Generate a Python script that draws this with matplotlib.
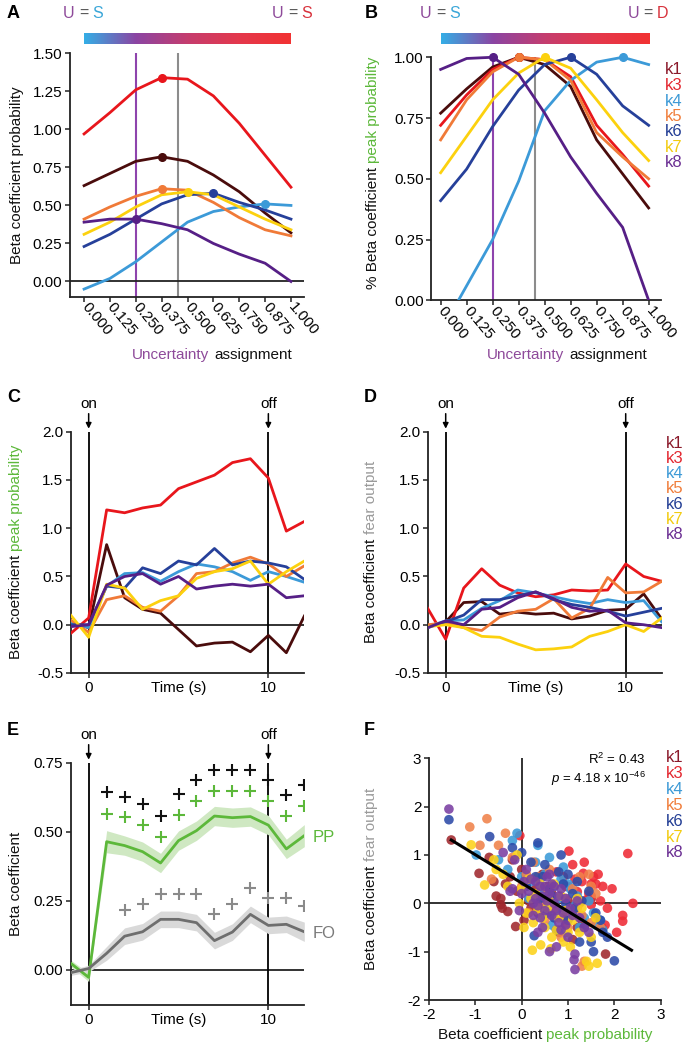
import numpy as np
import matplotlib
matplotlib.use('Agg')
import matplotlib.pyplot as plt
from matplotlib.colors import LinearSegmentedColormap
from matplotlib.transforms import IdentityTransform, offset_copy

plt.rcParams.update({
    'font.family': ['Liberation Sans', 'DejaVu Sans'],
    'font.size': 11,
    'axes.unicode_minus': False,
    'mathtext.fontset': 'custom',
    'mathtext.rm': 'Liberation Sans',
    'mathtext.it': 'Liberation Sans:italic',
})

# ---------------- data ----------------
clusters = ['k1', 'k3', 'k4', 'k5', 'k6', 'k7', 'k8']
line_colors = ['#4a0c0c', '#e8161c', '#3c9ad8', '#f07a38', '#26409a', '#fcd10e', '#561f86']
text_colors = ['#8b1a2b', '#e3262f', '#3d9ad6', '#f07d3a', '#233e95', '#f2cb10', '#6b2f93']
scatter_colors = ['#a0282d', '#ee2a35', '#3a9ad8', '#f0824a', '#2c4aa8', '#fcd21a', '#7a3ea2']

assign_x = [0.0, 0.125, 0.25, 0.375, 0.5, 0.625, 0.75, 0.875, 1.0]
assign_labels = ['0.000', '0.125', '0.250', '0.375', '0.500', '0.625', '0.750', '0.875', '1.000']

A_k1 = [0.63, 0.71, 0.79, 0.82, 0.79, 0.70, 0.59, 0.45, 0.32]
A_k3 = [0.97, 1.11, 1.26, 1.34, 1.33, 1.22, 1.04, 0.83, 0.62]
A_k4 = [-0.05, 0.02, 0.13, 0.26, 0.39, 0.46, 0.49, 0.51, 0.50]
A_k5 = [0.41, 0.49, 0.56, 0.61, 0.60, 0.52, 0.42, 0.34, 0.30]
A_k6 = [0.23, 0.31, 0.41, 0.51, 0.57, 0.58, 0.52, 0.47, 0.41]
A_k7 = [0.31, 0.39, 0.49, 0.57, 0.59, 0.57, 0.49, 0.41, 0.34]
A_k8 = [0.39, 0.41, 0.41, 0.38, 0.34, 0.25, 0.18, 0.12, 0.0]
A_series = [A_k1, A_k3, A_k4, A_k5, A_k6, A_k7, A_k8]
A_peak = [3, 3, 7, 3, 5, 4, 2]

B_k1 = [0.77, 0.87, 0.96, 1.00, 0.97, 0.88, 0.66, 0.52, 0.38]
B_k3 = [0.72, 0.845, 0.95, 1.00, 0.99, 0.92, 0.72, 0.60, 0.47]
B_k4 = [-0.13, 0.06, 0.25, 0.49, 0.78, 0.905, 0.98, 1.00, 0.97]
B_k5 = [0.66, 0.825, 0.94, 1.00, 0.99, 0.905, 0.69, 0.59, 0.50]
B_k6 = [0.41, 0.54, 0.715, 0.865, 0.97, 1.00, 0.93, 0.80, 0.72]
B_k7 = [0.525, 0.675, 0.825, 0.935, 1.00, 0.955, 0.825, 0.69, 0.575]
B_k8 = [0.95, 0.995, 1.00, 0.93, 0.77, 0.59, 0.44, 0.30, 0.0]
B_series = [B_k1, B_k3, B_k4, B_k5, B_k6, B_k7, B_k8]
B_peak = [3, 3, 7, 3, 5, 4, 2]

U_S_line = 0.25
U_mid_line = 0.452

time_s = [-1, 0, 1, 2, 3, 4, 5, 6, 7, 8, 9, 10, 11, 12]

C_k1 = [0.02, -0.03, 0.83, 0.28, 0.16, 0.12, -0.05, -0.22, -0.19, -0.18, -0.28, -0.11, -0.29, 0.09]
C_k3 = [-0.09, 0.07, 1.19, 1.16, 1.21, 1.24, 1.41, 1.48, 1.55, 1.68, 1.72, 1.52, 0.97, 1.07]
C_k4 = [0.02, -0.03, 0.40, 0.53, 0.54, 0.45, 0.55, 0.63, 0.60, 0.55, 0.46, 0.55, 0.50, 0.44]
C_k5 = [0.05, -0.08, 0.26, 0.30, 0.18, 0.14, 0.30, 0.53, 0.55, 0.64, 0.70, 0.63, 0.50, 0.61]
C_k6 = [0.0, 0.0, 0.40, 0.38, 0.59, 0.53, 0.66, 0.62, 0.79, 0.62, 0.66, 0.64, 0.60, 0.47]
C_k7 = [0.10, -0.13, 0.42, 0.38, 0.16, 0.25, 0.30, 0.48, 0.55, 0.58, 0.66, 0.42, 0.55, 0.66]
C_k8 = [-0.02, 0.0, 0.41, 0.50, 0.53, 0.42, 0.50, 0.37, 0.40, 0.42, 0.40, 0.42, 0.28, 0.30]
C_series = [C_k1, C_k3, C_k4, C_k5, C_k6, C_k7, C_k8]

D_k1 = [-0.02, 0.03, 0.23, 0.24, 0.11, 0.13, 0.11, 0.12, 0.06, 0.09, 0.15, 0.16, 0.32, 0.06]
D_k3 = [0.17, -0.15, 0.38, 0.58, 0.41, 0.33, 0.29, 0.31, 0.36, 0.35, 0.36, 0.63, 0.50, 0.45]
D_k4 = [-0.02, 0.04, 0.05, 0.17, 0.25, 0.36, 0.33, 0.29, 0.25, 0.22, 0.26, 0.23, 0.25, 0.03]
D_k5 = [0.0, 0.02, -0.03, -0.06, 0.08, 0.14, 0.16, 0.27, 0.07, 0.17, 0.49, 0.33, 0.34, 0.45]
D_k6 = [-0.03, 0.03, 0.10, 0.26, 0.26, 0.30, 0.34, 0.26, 0.21, 0.18, 0.14, 0.09, 0.13, 0.17]
D_k7 = [-0.02, 0.0, -0.03, -0.12, -0.13, -0.20, -0.26, -0.25, -0.23, -0.12, -0.07, 0.0, -0.07, 0.07]
D_k8 = [-0.03, 0.04, 0.0, 0.16, 0.18, 0.28, 0.34, 0.27, 0.18, 0.14, 0.15, 0.02, 0.0, -0.03]
D_series = [D_k1, D_k3, D_k4, D_k5, D_k6, D_k7, D_k8]

E_PP = [0.024, -0.027, 0.464, 0.45, 0.428, 0.387, 0.468, 0.504, 0.557, 0.551, 0.555, 0.524, 0.438, 0.486]
E_PP_err = [0.012, 0.015, 0.04, 0.035, 0.035, 0.035, 0.035, 0.035, 0.035, 0.035, 0.035, 0.035, 0.035, 0.04]
E_FO = [-0.01, 0.005, 0.06, 0.122, 0.138, 0.183, 0.183, 0.171, 0.106, 0.137, 0.201, 0.161, 0.165, 0.138]
E_FO_err = [0.01, 0.012, 0.025, 0.03, 0.03, 0.03, 0.03, 0.03, 0.03, 0.03, 0.03, 0.03, 0.03, 0.035]
sig_black_t = [1, 2, 3, 4, 5, 6, 7, 8, 9, 10, 11, 12]
sig_black_y = [0.644, 0.626, 0.601, 0.556, 0.637, 0.689, 0.724, 0.724, 0.724, 0.689, 0.632, 0.670]
sig_green_t = [1, 2, 3, 4, 5, 6, 7, 8, 9, 10, 11, 12]
sig_green_y = [0.565, 0.552, 0.524, 0.48, 0.56, 0.613, 0.649, 0.649, 0.649, 0.613, 0.557, 0.593]
sig_gray_t = [2, 3, 4, 5, 6, 7, 8, 9, 10, 11, 12]
sig_gray_y = [0.217, 0.24, 0.274, 0.274, 0.274, 0.201, 0.238, 0.295, 0.259, 0.259, 0.232]

F_k1_x = [-1.52, -0.92, -0.45, -0.3, -0.13, -0.55, 0.1, 0.3, 0.5, -0.2, 0.65, 0.9, 1.81, -0.7, 0.2, -0.35, 1.2, 0.0, 0.8, 1.5,
          -0.45, -0.42, -0.1, 0.15, 0.35, 0.55, 0.75, 1.0, 1.3, -0.6, -0.25, 0.05, 0.45, 0.95, 1.1]
F_k1_y = [1.31, 0.62, -0.03, -0.17, -0.48, 0.15, 0.5, 0.3, 0.0, 0.9, 0.2, -0.3, -1.05, 0.95, -0.1, 0.4, -0.5, 0.7, -0.6, 0.1,
          0.1, -0.1, 0.25, 0.05, -0.2, 0.35, -0.1, 0.05, -0.35, 0.45, 0.55, -0.35, 0.6, 0.35, -0.75]
F_k3_x = [1.02, 2.29, -0.04, 1.33, 1.5, 1.6, 2.4, 2.18, 2.18, 1.2, 1.4, 1.5, 1.73, 0.9, 1.1, 0.6, 1.3, 1.8, 0.75, 1.0, 1.45, 1.65,
          1.7, 1.55, 1.85, 1.95, 1.25, 1.05, 0.85, 1.6, 2.05, 1.35, 1.15, 0.95, 1.75, 1.5]
F_k3_y = [1.08, 1.03, 1.40, 0.62, 0.4, 0.4, 0.0, -0.25, -0.37, 0.24, 0.07, -0.03, -0.5, 0.55, 0.8, 0.3, 0.45, -0.45, 0.65, 0.35, 0.2, 0.6,
          0.05, 0.55, -0.1, 0.3, 0.0, -0.15, 0.1, -0.3, -0.6, 0.85, 0.5, -0.45, 0.35, 0.15]
F_k4_x = [-0.1, -0.98, 0.5, 0.3, 0.8, 1.1, 0.7, 1.35, -0.5, 0.0, 1.6, 1.2, 0.95, 0.45, 0.2, 1.75, 0.9, -0.3, 1.0,
          0.55, 0.75, 1.05, 1.25, 0.35, 0.6, 0.85, 1.45, 1.55, 0.15, -0.2, 0.65, 1.15, 1.7]
F_k4_y = [1.45, 1.0, 0.6, 0.85, 0.1, -0.2, 0.35, -0.3, 0.9, 0.55, -0.45, 0.15, -0.6, 0.2, 0.45, -0.55, 0.75, 0.7, 0.4,
          0.0, -0.15, 0.3, -0.5, 1.2, 0.95, 0.5, 0.05, -0.2, 0.1, 1.3, -0.45, -0.05, -0.35]
F_k5_x = [-1.12, -0.75, -0.2, 0.1, 0.4, 0.55, 0.9, 1.3, 1.3, 1.5, -0.5, 0.7, 1.1, 1.6, 0.25, 0.85, 1.45, -0.9,
          -0.35, 0.0, 0.35, 0.6, 0.95, 1.2, 1.35, 1.5, 1.7, -0.65, 0.15, 0.5, 1.0, 1.25]
F_k5_y = [1.58, 1.75, 0.95, 0.6, 0.0, 0.3, -0.3, -1.3, -0.25, -0.4, 1.2, -0.1, 0.3, 0.2, 0.85, -0.7, 0.6, 1.2,
          1.45, 0.35, 0.55, 0.7, 0.1, -0.1, -1.2, 0.35, -0.5, 0.5, -0.2, -0.35, -0.5, 0.55]
F_k6_x = [-1.57, -0.69, 2.0, 0.27, 0.5, 0.8, 1.0, 1.2, 1.5, 0.95, 0.6, 0.3, 0.0, -0.2, 1.35, 1.75, 0.7, 1.1, 0.4, 1.6, 0.85,
          0.2, 0.45, 0.65, 0.9, 1.15, 1.3, 1.45, 1.7, 1.85, 0.1, 0.55, 0.75, 1.0, 1.25, 0.35, 1.55]
F_k6_y = [1.73, 1.38, -1.19, -0.67, 0.8, 0.65, 0.6, 0.45, -0.8, 0.0, 0.3, 0.55, 1.05, 1.15, -0.5, -0.6, -0.3, 0.2, 0.1, -0.2, 1.0,
          0.85, 0.55, 0.15, 0.4, -0.1, 0.05, 0.25, -0.35, -0.7, 0.35, -0.2, -0.55, -0.35, -0.8, 1.25, -1.0]
F_k7_x = [0.23, 0.41, 0.63, 1.63, 1.4, -0.8, -1.09, 0.0, 0.1, 0.5, 0.8, 1.0, 1.2, 0.3, 0.6, 0.9, -0.4, -0.1, 1.3, 0.7, 0.45, -0.6, 1.5, 0.15,
          -0.3, -0.05, 0.2, 0.35, 0.55, 0.75, 0.95, 1.1, 1.25, 1.45, 0.05, 0.4, 0.65, 0.85, 1.05, 1.6, -0.55, 0.25]
F_k7_y = [-0.97, -0.86, -0.94, -1.24, -1.2, 0.38, 1.21, 0.3, -0.2, -0.5, -0.3, -0.6, 0.1, 0.2, 0.05, -0.8, 0.6, 1.0, -0.1, 0.4, -0.3, 0.9, -0.7, 0.5,
          0.35, 0.0, 0.1, -0.15, -0.1, -0.55, -0.15, -0.35, -0.6, -1.3, -0.5, 0.4, -0.7, 0.15, -0.9, -0.3, 0.7, -0.4]
F_k8_x = [-1.57, 1.15, 1.13, 0.2, 0.4, 0.6, 0.7, 0.8, 0.5, 0.3, 0.9, 1.0, 0.55, 0.65, -0.15, 0.1, 0.45, 0.75, 1.25, 0.35, 0.85, 0.0, -0.4, 1.05, 0.6, 0.25, -0.2,
          0.15, 0.3, 0.45, 0.55, 0.7, 0.8, 0.95, 1.1, 1.2, 1.35, 0.05, 0.25, 0.4, 0.65, 0.85, 0.95, 1.15, -0.25, 0.5, 0.75, -0.05, 1.45, 0.6, 0.35]
F_k8_y = [1.95, -1.37, -1.17, 0.5, 0.35, 0.2, 0.0, -0.4, -0.15, 0.1, -0.2, -0.7, 0.55, 0.4, 0.9, 0.7, -0.5, -0.9, -0.3, -0.6, 0.3, 0.2, 1.05, -0.1, -1.0, 0.0, 0.3,
          0.25, 0.45, 0.15, 0.05, 0.35, 0.15, 0.1, -0.25, 0.05, -0.5, 0.45, -0.25, -0.3, -0.25, -0.55, -0.45, -1.05, 0.25, 0.35, -0.15, -0.15, -0.6, 0.6, -0.05]
F_x = [F_k1_x, F_k3_x, F_k4_x, F_k5_x, F_k6_x, F_k7_x, F_k8_x]
F_y = [F_k1_y, F_k3_y, F_k4_y, F_k5_y, F_k6_y, F_k7_y, F_k8_y]
fit_x_range = [-1.52, 2.37]
fit_slope = -0.586
fit_intercept = 0.419

# ---------------- figure ----------------
W, H = 688, 1050
fig = plt.figure(figsize=(6.88, 10.5), dpi=100)

PURPLE = '#8e4a9a'
GREEN = '#5cb83a'
GRAY_T = '#9a9a9a'


def add_ax(x0, y0, x1, y1):
    return fig.add_axes([x0 / W, 1 - y1 / H, (x1 - x0) / W, (y1 - y0) / H])


def style(ax):
    for s in ['top', 'right']:
        ax.spines[s].set_visible(False)
    for s in ['left', 'bottom']:
        ax.spines[s].set_linewidth(1.3)
        ax.spines[s].set_color('#222222')
    ax.tick_params(direction='out', length=3.5, width=1.1, pad=2, labelsize=11, color='#222222')
    ax.patch.set_alpha(0)


def mtext(x, y, parts, rotation=0, fontsize=11, weight='normal'):
    r = fig.canvas.get_renderer()
    ts = []
    for s, c in parts:
        t = fig.text(0, 0, s, color=c, fontsize=fontsize, rotation=rotation, rotation_mode='anchor',
                     ha='left', va='baseline', transform=IdentityTransform(), fontweight=weight)
        ts.append(t)
    gap = 0.28 * fontsize * 100 / 72
    lens = []
    for t in ts:
        bb = t.get_window_extent(r)
        lens.append(bb.width if rotation == 0 else bb.height)
    total = sum(lens) + gap * (len(ts) - 1)
    pos = -total / 2
    for t, L in zip(ts, lens):
        if rotation == 0:
            t.set_position((x + pos, H - y))
        else:
            t.set_position((x, H - y + pos))
        pos += L + gap


def ptext(x, y, s, **kw):
    fig.text(x / W, 1 - y / H, s, **kw)


def legend(x, y0, dy):
    for i, (k, c) in enumerate(zip(clusters, text_colors)):
        ptext(x, y0 + i * dy, k, color=c, fontsize=12, ha='left', va='center')


def onoff(ax, t, label):
    trans = offset_copy(ax.get_xaxis_transform(), fig=fig, x=0, y=3, units='dots')
    ax.annotate('', xy=(t, 1), xycoords=trans, xytext=(0, 15), textcoords='offset pixels',
                arrowprops=dict(arrowstyle='-|>', color='k', lw=1.1, mutation_scale=8,
                                shrinkA=0, shrinkB=0), annotation_clip=False)
    ax.annotate(label, xy=(t, 1), xycoords=('data', 'axes fraction'), xytext=(0, 28),
                textcoords='offset pixels', ha='center', va='center', fontsize=11,
                annotation_clip=False)


def time_label(ax):
    ax.annotate('Time (s)', xy=(5, 0), xycoords=('data', 'axes fraction'), xytext=(0, -5.5),
                textcoords='offset points', ha='center', va='top', fontsize=11,
                annotation_clip=False)


cmap = LinearSegmentedColormap.from_list('u', [(0, '#34aee6'), (0.25, '#8b45a3'), (0.5, '#c53d6e'),
                                               (0.75, '#e4384c'), (1, '#f23232')])


def gradient_bar(x0, y0, x1, y1):
    cax = add_ax(x0, y0, x1, y1)
    cax.imshow(np.linspace(0, 1, 256)[None, :], aspect='auto', cmap=cmap)
    cax.axis('off')


# ---------- Panel A ----------
axA = add_ax(70, 53.3, 304, 296.7)
style(axA)
axA.set_xlim(-0.068, 1.063)
axA.set_ylim(-0.1, 1.5)
axA.axvline(U_S_line, color='#8e44ad', lw=1.5, zorder=1)
axA.axvline(U_mid_line, color='#8c8c8c', lw=1.5, zorder=1)
axA.axhline(0, color='#222222', lw=1.3, zorder=1)
for ys, c, pk in zip(A_series, line_colors, A_peak):
    axA.plot(assign_x, ys, color=c, lw=2, zorder=3, solid_joinstyle='round')
    axA.plot([assign_x[pk]], [ys[pk]], 'o', ms=5.5, color=c, zorder=4)
axA.set_yticks([0, 0.25, 0.5, 0.75, 1.0, 1.25, 1.5])
axA.set_yticklabels(['0.00', '0.25', '0.50', '0.75', '1.00', '1.25', '1.50'])
axA.set_xticks(assign_x)
axA.set_xticklabels(assign_labels, rotation=-50, ha='left', va='center', rotation_mode='anchor')
gradient_bar(84, 33, 291, 44)

# ---------- Panel B ----------
axB = add_ax(431.3, 52.4, 660.7, 300.3)
style(axB)
axB.set_xlim(-0.045, 1.058)
axB.set_ylim(0, 1.02)
axB.spines['left'].set_bounds(0, 1)
axB.vlines([U_S_line], 0, 1, color='#8e44ad', lw=1.5, zorder=1)
axB.vlines([U_mid_line], 0, 1, color='#8c8c8c', lw=1.5, zorder=1)
for ys, c, pk in zip(B_series, line_colors, B_peak):
    axB.plot(assign_x, ys, color=c, lw=2, zorder=3, solid_joinstyle='round')
    axB.plot([assign_x[pk]], [ys[pk]], 'o', ms=5.5, color=c, zorder=4, clip_on=False)
axB.set_yticks([0, 0.25, 0.5, 0.75, 1.0])
axB.set_yticklabels(['0.00', '0.25', '0.50', '0.75', '1.00'])
axB.set_xticks(assign_x)
axB.set_xticklabels(assign_labels, rotation=-50, ha='left', va='center', rotation_mode='anchor')
gradient_bar(440.7, 32.7, 649, 44)
legend(665, 70, 15.5)

# ---------- Panel C ----------
axC = add_ax(70.7, 431.7, 304.3, 673)
style(axC)
axC.set_xlim(-1, 12)
axC.set_ylim(-0.5, 2.0)
axC.axhline(0, color='#222222', lw=1.3, zorder=1)
axC.axvline(0, color='k', lw=1.3, zorder=1)
axC.axvline(10, color='k', lw=1.3, zorder=1)
for ys, c in zip(C_series, line_colors):
    axC.plot(time_s, ys, color=c, lw=2, zorder=3)
axC.set_yticks([-0.5, 0, 0.5, 1.0, 1.5, 2.0])
axC.set_yticklabels(['-0.5', '0.0', '0.5', '1.0', '1.5', '2.0'])
axC.set_xticks([0, 10])
onoff(axC, 0, 'on')
onoff(axC, 10, 'off')
time_label(axC)

# ---------- Panel D ----------
axD = add_ax(427.7, 431.7, 661.7, 673)
style(axD)
axD.set_xlim(-1, 12)
axD.set_ylim(-0.5, 2.0)
axD.axhline(0, color='#222222', lw=1.3, zorder=1)
axD.axvline(0, color='k', lw=1.3, zorder=1)
axD.axvline(10, color='k', lw=1.3, zorder=1)
for ys, c in zip(D_series, line_colors):
    axD.plot(time_s, ys, color=c, lw=2, zorder=3)
axD.set_yticks([-0.5, 0, 0.5, 1.0, 1.5, 2.0])
axD.set_yticklabels(['-0.5', '0.0', '0.5', '1.0', '1.5', '2.0'])
axD.set_xticks([0, 10])
onoff(axD, 0, 'on')
onoff(axD, 10, 'off')
time_label(axD)
legend(666, 443, 15.3)

# ---------- Panel E ----------
axE = add_ax(70.7, 762.7, 304.3, 1005)
style(axE)
axE.set_xlim(-1, 12)
axE.set_ylim(-0.127, 0.75)
axE.axhline(0, color='#222222', lw=1.3, zorder=1)
axE.axvline(0, color='k', lw=1.3, zorder=1)
axE.axvline(10, color='k', lw=1.3, zorder=1)
pp = np.array(E_PP); ppe = np.array(E_PP_err)
fo = np.array(E_FO); foe = np.array(E_FO_err)
axE.fill_between(time_s, pp - ppe, pp + ppe, color='#cfe8c2', lw=0, zorder=2)
axE.fill_between(time_s, fo - foe, fo + foe, color='#d9d9d9', lw=0, zorder=2)
axE.plot(time_s, E_PP, color=GREEN, lw=2, zorder=3)
axE.plot(time_s, E_FO, color='#6e6e6e', lw=2, zorder=3)
axE.plot(sig_black_t, sig_black_y, '+', color='#111111', ms=8, mew=1.5, zorder=4)
axE.plot(sig_green_t, sig_green_y, '+', color=GREEN, ms=8, mew=1.5, zorder=4)
axE.plot(sig_gray_t, sig_gray_y, '+', color='#8a8a8a', ms=8, mew=1.5, zorder=4)
axE.set_yticks([0, 0.25, 0.5, 0.75])
axE.set_yticklabels(['0.00', '0.25', '0.50', '0.75'])
axE.set_xticks([0, 10])
onoff(axE, 0, 'on')
onoff(axE, 10, 'off')
time_label(axE)
ptext(313, 837, 'PP', color=GREEN, fontsize=12, ha='left', va='center')
ptext(313, 933, 'FO', color='#7a7a7a', fontsize=12, ha='left', va='center')

# ---------- Panel F ----------
axF = add_ax(429, 758.3, 660.7, 1000)
style(axF)
axF.set_xlim(-2, 3)
axF.set_ylim(-2, 3)
axF.axhline(0, color='#222222', lw=1.3, zorder=1)
axF.axvline(0, color='#222222', lw=1.3, zorder=1)
for xs, ys, c in zip(F_x, F_y, scatter_colors):
    axF.scatter(xs, ys, s=48, color=c, alpha=0.88, edgecolors='none', zorder=3)
fx = np.array(fit_x_range)
axF.plot(fx, fit_intercept + fit_slope * fx, color='k', lw=2.2, zorder=5)
axF.set_xticks([-2, -1, 0, 1, 2, 3])
axF.set_yticks([-2, -1, 0, 1, 2, 3])
axF.text(2.68, 2.97, 'R$^2$ = 0.43', ha='right', va='center', fontsize=9.5)
axF.text(2.68, 2.58, '$p$ = 4.18 x 10$^{-46}$', ha='right', va='center', fontsize=9.5)
legend(666, 758, 15.8)

# ---------- labels ----------
mtext(83, 18, [('U', PURPLE), ('=', '#555555'), ('S', '#3aa6d8')], fontsize=11.5)
mtext(292, 18, [('U', PURPLE), ('=', '#555555'), ('S', '#d8323c')], fontsize=11.5)
mtext(440, 18, [('U', PURPLE), ('=', '#555555'), ('S', '#3aa6d8')], fontsize=11.5)
mtext(648, 18, [('U', PURPLE), ('=', '#555555'), ('D', '#d8323c')], fontsize=11.5)

mtext(21, 175, [('Beta coefficient probability', '#111111')], rotation=90)
mtext(377, 173, [('% Beta coefficient', '#111111'), ('peak probability', GREEN)], rotation=90)
mtext(20, 552, [('Beta coefficient', '#111111'), ('peak probability', GREEN)], rotation=90)
mtext(375, 552, [('Beta coefficient', '#111111'), ('fear output', GRAY_T)], rotation=90)
mtext(20, 884, [('Beta coefficient', '#111111')], rotation=90)
mtext(375, 879, [('Beta coefficient', '#111111'), ('fear output', GRAY_T)], rotation=90)

mtext(212, 359, [('Uncertainty', PURPLE), ('assignment', '#111111')])
mtext(567, 359, [('Uncertainty', PURPLE), ('assignment', '#111111')])
mtext(545, 1039, [('Beta coefficient', '#111111'), ('peak probability', GREEN)])

for lab, x, y in [('A', 7, 18), ('B', 365, 18), ('C', 7, 402), ('D', 364, 402), ('E', 7, 735), ('F', 364, 735)]:
    ptext(x, y, lab, fontsize=13, fontweight='bold', ha='left', va='baseline')

fig.savefig('out.png', dpi=100)
